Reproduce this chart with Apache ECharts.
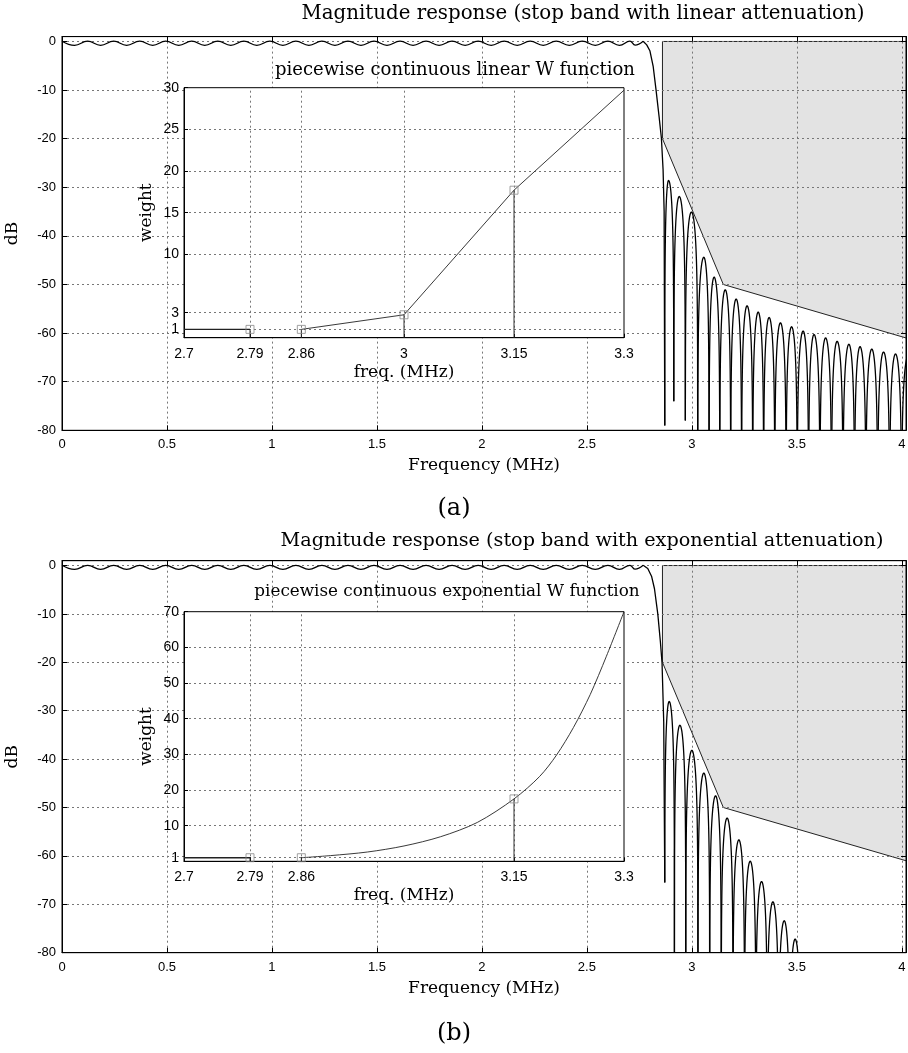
<!DOCTYPE html>
<html><head><meta charset="utf-8">
<script src="https://cdn.jsdelivr.net/npm/echarts@6/dist/echarts.min.js"></script>
<style>html,body{margin:0;padding:0;background:#fff}#c{width:908px;height:1053px}</style>
</head><body><div id="c"></div>
<script>
// ---------------- DATA ----------------
// pass band ripple extrema (MHz, dB) - shared by both designs
const passFreq = [0.000,0.060,0.122,0.184,0.246,0.308,0.370,0.432,0.494,0.556,0.618,0.680,0.742,0.804,0.866,0.928,0.990,1.052,1.114,1.176,1.238,1.300,1.362,1.424,1.486,1.548,1.610,1.672,1.734,1.796,1.858,1.920,1.982,2.044,2.106,2.168,2.230,2.292,2.354,2.416,2.478,2.540,2.600,2.655,2.705,2.730,2.768];
const passDb   = [0.05,-0.80,0.05,-0.80,0.05,-0.80,0.05,-0.80,0.05,-0.80,0.05,-0.80,0.05,-0.80,0.05,-0.80,0.05,-0.80,0.05,-0.80,0.05,-0.80,0.05,-0.80,0.05,-0.80,0.05,-0.80,0.05,-0.80,0.05,-0.80,0.05,-0.80,0.05,-0.80,0.05,-0.80,0.05,-0.80,0.05,-0.80,0.05,-0.80,0.05,-0.75,0.05];

// transition band (a) linear design
const transFreqA = [2.768,2.785,2.800,2.816,2.829,2.844,2.855,2.863,2.868,2.871];
const transDbA   = [0.05,-0.7,-1.9,-5.2,-9.8,-15.5,-19.9,-26.4,-35.0,-79.0];
// stop band lobes (a)
const lobePeakFreqA = [2.889,2.940,2.998,3.057,3.106,3.159,3.211,3.263,3.316,3.368,3.422,3.475,3.530,3.582,3.637,3.692,3.748,3.801,3.857,3.913,3.970,4.030];
const lobePeakDbA   = [-28.6,-31.9,-35.1,-44.4,-48.5,-51.1,-53.0,-54.4,-55.7,-56.8,-57.9,-58.7,-59.6,-60.3,-61.0,-61.7,-62.3,-62.8,-63.3,-63.9,-64.3,-64.8];
const nullFreqA = [2.871,2.914,2.969,3.028,3.082,3.133,3.185,3.237,3.290,3.342,3.395,3.449,3.502,3.556,3.610,3.665,3.720,3.775,3.829,3.885,3.942,3.999,4.060];
const nullDbA   = [-79,-74,-78,-100,-100,-100,-100,-100,-100,-100,-100,-100,-100,-100,-100,-100,-100,-100,-100,-100,-100,-100,-100];

// transition band (b) exponential design
const transFreqB = [2.768,2.790,2.808,2.822,2.838,2.850,2.858,2.866,2.871];
const transDbB   = [0.05,-0.6,-2.2,-4.8,-10.1,-15.7,-20.1,-32.3,-65.5];
const lobePeakFreqB = [2.892,2.943,3.000,3.057,3.113,3.168,3.224,3.278,3.332,3.386,3.440,3.492];
const lobePeakDbB   = [-28.1,-33.0,-38.2,-42.9,-47.6,-52.2,-56.7,-61.1,-65.3,-69.5,-73.4,-77.2];
const nullFreqB = [2.871,2.917,2.971,3.029,3.085,3.140,3.196,3.251,3.305,3.359,3.413,3.466,3.518];
const nullDbB   = [-65.5,-100,-100,-100,-100,-100,-100,-100,-100,-100,-100,-100,-100];

// stop band mask (shaded forbidden region)
const maskFreq = [2.86, 3.15, 4.02];
const maskDb   = [-20, -50, -61];
const maskTopDb = 0;

// inset (a): piecewise linear weight
const insetXTicksA = [2.7, 2.79, 2.86, 3, 3.15, 3.3];
const insetYTicksA = [1, 3, 10, 15, 20, 25, 30];
const flatFreqA = [2.7, 2.79];
const flatWA    = [1, 1];
const weightFreqA = [2.86, 3.0, 3.15, 3.3];
const weightA     = [1, 2.75, 17.7, 29.7];
const knotFreqA = [2.79, 2.86, 3.0, 3.15];
const knotWA    = [1, 1, 2.75, 17.7];

// inset (b): piecewise exponential weight
const insetXTicksB = [2.7, 2.79, 2.86, 3.15, 3.3];
const insetYTicksB = [1, 10, 20, 30, 40, 50, 60, 70];
const flatFreqB = [2.7, 2.79];
const flatWB    = [1, 1];
const weightFreqB = [2.86,2.90,2.95,3.00,3.05,3.10,3.15,3.185,3.208,3.231,3.254,3.276,3.30];
const weightB     = [1,1.6,2.6,4.3,6.9,10.9,17.5,23.8,29.8,37.5,46.8,57.5,70];
const knotFreqB = [2.79, 2.86, 3.15];
const knotWB    = [1, 1, 17.5];

// ---------------- CHART ----------------
const sans = "'Liberation Sans', Arial, sans-serif";
const serif = "'DejaVu Serif', serif";
const GRID_DOT = {type:[2,3], color:'#777', width:1};
const pairs = (xs, ys) => xs.map((x,i) => [x, ys[i]]);

function mainX(g, pos, lab){
  return {type:'value', gridIndex:g, position:pos, min:0, max:4.02, interval:0.5, z:0,
    axisLine:{show:true, onZero:false, lineStyle:{color:'#000'}},
    axisTick:{show:true, inside:true, length:5, lineStyle:{color:'#000'}},
    axisLabel:{show:lab, color:'#000', fontFamily:sans, fontSize:13, margin:8,
      formatter: v => (Math.abs(v*2 - Math.round(v*2)) < 1e-9 ? String(v) : '')},
    splitLine:{show:lab, lineStyle:GRID_DOT},
    name: lab ? 'Frequency (MHz)' : '', nameLocation:'middle', nameGap:27,
    nameTextStyle:{fontFamily:serif, fontSize:17, color:'#000'}};
}
function mainY(g, pos, lab){
  return {type:'value', gridIndex:g, position:pos, min:-80, max:1, interval:10, z:0,
    axisLine:{show:true, onZero:false, lineStyle:{color:'#000'}},
    axisTick:{show:true, inside:true, length:5, lineStyle:{color:'#000'}},
    axisLabel:{show:lab, color:'#000', fontFamily:sans, fontSize:13, margin:6,
      formatter: v => (v % 10 === 0 ? String(v) : '')},
    splitLine:{show:lab, lineStyle:GRID_DOT},
    name: lab ? 'dB' : '', nameLocation:'middle', nameGap:41,
    nameTextStyle:{fontFamily:serif, fontSize:17, color:'#000'}};
}
function insetX(g, ticks){
  return {type:'value', gridIndex:g, position:'bottom', min:2.7, max:3.3, z:6,
    axisLine:{show:true, onZero:false, lineStyle:{color:'#000'}},
    axisTick:{show:true, inside:true, length:4, customValues:ticks, lineStyle:{color:'#000'}},
    axisLabel:{show:true, customValues:ticks, color:'#000', fontFamily:sans, fontSize:14, margin:9, formatter: v => String(v)},
    splitLine:{show:false},
    name:'freq. (MHz)', nameLocation:'middle', nameGap:26,
    nameTextStyle:{fontFamily:serif, fontSize:17, color:'#000'}};
}
function insetY(g, ticks, max){
  return {type:'value', gridIndex:g, position:'left', min:0, max:max, z:6,
    axisLine:{show:true, onZero:false, lineStyle:{color:'#000'}},
    axisTick:{show:true, inside:true, length:4, customValues:ticks, lineStyle:{color:'#000'}},
    axisLabel:{show:true, customValues:ticks, color:'#000', fontFamily:sans, fontSize:14, margin:5, formatter: v => String(v)},
    splitLine:{show:false},
    name:'weight', nameLocation:'middle', nameGap:29,
    nameTextStyle:{fontFamily:serif, fontSize:17, color:'#000'}};
}

function lobeItems(pf, pd, nf, nd){
  return pf.map((f,i) => [f, pd[i], nf[i], nd[i], nf[i+1], nd[i+1]]);
}
function lobeRender(params, api){
  const pk = api.value(0), pdb = api.value(1);
  const nl = api.value(2), nld = api.value(3), nr = api.value(4), nrd = api.value(5);
  const N = 40, pts = [];
  const shape = (s, floor) => s <= 0 ? floor : Math.max(pdb + 20*Math.log10(Math.sin(s*Math.PI/2)), floor);
  for (let i=0;i<=N;i++){ const s=i/N; pts.push(api.coord([nl + s*(pk-nl), shape(s, nld)])); }
  for (let i=N-1;i>=0;i--){ const s=i/N; pts.push(api.coord([nr + s*(pk-nr), shape(s, nrd)])); }
  return {type:'polyline', shape:{points:pts}, style:{stroke:'#000', lineWidth:1.3, fill:null}};
}
function maskRender(params, api){
  if (params.dataIndex !== 0) return {type:'group', children:[]};
  const n = maskFreq.length;
  const topL = api.coord([maskFreq[0], maskTopDb]);
  const topR = api.coord([maskFreq[n-1], maskTopDb]);
  const edge = maskFreq.map((f,i) => api.coord([f, maskDb[i]]));
  const poly = [topL, topR].concat(edge.slice().reverse());
  return {type:'group', children:[
    {type:'polygon', shape:{points:poly}, style:{fill:'#e3e3e3', stroke:null}},
    {type:'polyline', shape:{points:[topR, topL].concat(edge)}, style:{stroke:'#222', lineWidth:1, fill:null}}
  ]};
}
function stemRender(params, api){
  const a = api.coord([api.value(0), 0]);
  const b = api.coord([api.value(0), api.value(1)]);
  return {type:'line', shape:{x1:a[0], y1:a[1], x2:b[0], y2:b[1]}, style:{stroke:'#333', lineWidth:1}};
}
function insetGridLines(xt, yt, xmin, xmax, ymin, ymax){
  const d = [];
  xt.forEach(v => { if (v > xmin && v < xmax) d.push({xAxis:v}); });
  yt.forEach(v => { if (v > ymin && v < ymax) d.push({yAxis:v}); });
  return {silent:true, symbol:'none', animation:false, label:{show:false}, lineStyle:GRID_DOT, data:d};
}

function panelSeries(k, xi, yi, ixi, iyi, tf, td, lobes, xt, yt, ymaxIn, flatF, flatW, wF, wW, kF, kW, smoothW){
  return [
    {type:'custom', name:'mask'+k, xAxisIndex:xi, yAxisIndex:yi, z:-1, clip:true, renderItem:maskRender,
      data: pairs(maskFreq, maskDb), encode:{x:0, y:1}},
    {type:'line', name:'pass'+k, xAxisIndex:xi, yAxisIndex:yi, z:3, smooth:0.45, showSymbol:false, symbol:'none',
      lineStyle:{color:'#000', width:1.3}, data: pairs(passFreq, passDb)},
    {type:'line', name:'trans'+k, xAxisIndex:xi, yAxisIndex:yi, z:3, showSymbol:false, symbol:'none', clip:true,
      lineStyle:{color:'#000', width:1.3}, data: pairs(tf, td)},
    {type:'custom', name:'lobes'+k, xAxisIndex:xi, yAxisIndex:yi, z:3, clip:true, renderItem:lobeRender,
      data: lobes, encode:{x:0, y:1}},
    {type:'line', name:'flat'+k, xAxisIndex:ixi, yAxisIndex:iyi, z:8, showSymbol:false, symbol:'none',
      lineStyle:{color:'#222', width:1.4}, data: pairs(flatF, flatW), markLine: insetGridLines(xt, yt, 2.7, 3.3, 0, ymaxIn)},
    {type:'line', name:'w'+k, xAxisIndex:ixi, yAxisIndex:iyi, z:8, showSymbol:false, symbol:'none', smooth:smoothW,
      lineStyle:{color:'#222', width:0.9}, data: pairs(wF, wW)},
    {type:'custom', name:'stem'+k, xAxisIndex:ixi, yAxisIndex:iyi, z:8, renderItem:stemRender,
      data: pairs(kF, kW), encode:{x:0, y:1}},
    {type:'scatter', name:'knot'+k, xAxisIndex:ixi, yAxisIndex:iyi, z:9, symbol:'rect', symbolSize:8,
      itemStyle:{color:'rgba(255,255,255,0)', borderColor:'#8a8a8a', borderWidth:1}, data: pairs(kF, kW)}
  ];
}

function txt(x, y, s, size, extra){
  return Object.assign({type:'text', x:x, y:y, z:20, silent:true,
    style:{text:s, font: size + "px 'DejaVu Serif', serif", fill:'#000', textAlign:'center', textVerticalAlign:'middle', align:'center', verticalAlign:'middle'}}, extra||{});
}

const gridBase = {show:true, borderColor:'#000', borderWidth:1, containLabel:false, outerBoundsMode:'none'};
const chart = echarts.init(document.getElementById('c'), null, {renderer:'canvas'});
chart.setOption({
  animation:false,
  backgroundColor:'#fff',
  grid:[
    Object.assign({left:62, top:36.6, width:844, height:393.7, backgroundColor:'rgba(0,0,0,0)', z:0}, gridBase),
    Object.assign({left:184, top:87.7, width:440, height:250, backgroundColor:'#fff', z:5}, gridBase),
    Object.assign({left:62, top:560.7, width:844, height:392, backgroundColor:'rgba(0,0,0,0)', z:0}, gridBase),
    Object.assign({left:184, top:611.7, width:440, height:249.6, backgroundColor:'#fff', z:5}, gridBase)
  ],
  xAxis:[ mainX(0,'bottom',true), mainX(0,'top',false), insetX(1, insetXTicksA),
          mainX(2,'bottom',true), mainX(2,'top',false), insetX(3, insetXTicksB) ],
  yAxis:[ mainY(0,'left',true), mainY(0,'right',false), insetY(1, insetYTicksA, 30),
          mainY(2,'left',true), mainY(2,'right',false), insetY(3, insetYTicksB, 70) ],
  series: [].concat(
    panelSeries('A', 0, 0, 2, 2, transFreqA, transDbA, lobeItems(lobePeakFreqA, lobePeakDbA, nullFreqA, nullDbA),
      insetXTicksA, insetYTicksA, 30, flatFreqA, flatWA, weightFreqA, weightA, knotFreqA, knotWA, false),
    panelSeries('B', 3, 3, 5, 5, transFreqB, transDbB, lobeItems(lobePeakFreqB, lobePeakDbB, nullFreqB, nullDbB),
      insetXTicksB, insetYTicksB, 70, flatFreqB, flatWB, weightFreqB, weightB, knotFreqB, knotWB, 0.3)
  ),
  graphic:[
    txt(583, 14, 'Magnitude response (stop band with linear attenuation)', 19.8),
    txt(455, 70, 'piecewise continuous linear W function', 18),
    txt(454, 509, '(a)', 24),
    txt(582, 541, 'Magnitude response (stop band with exponential attenuation)', 19.2),
    txt(447, 592, 'piecewise continuous exponential W function', 16.8),
    txt(454, 1034, '(b)', 24)
  ]
});
</script></body></html>
